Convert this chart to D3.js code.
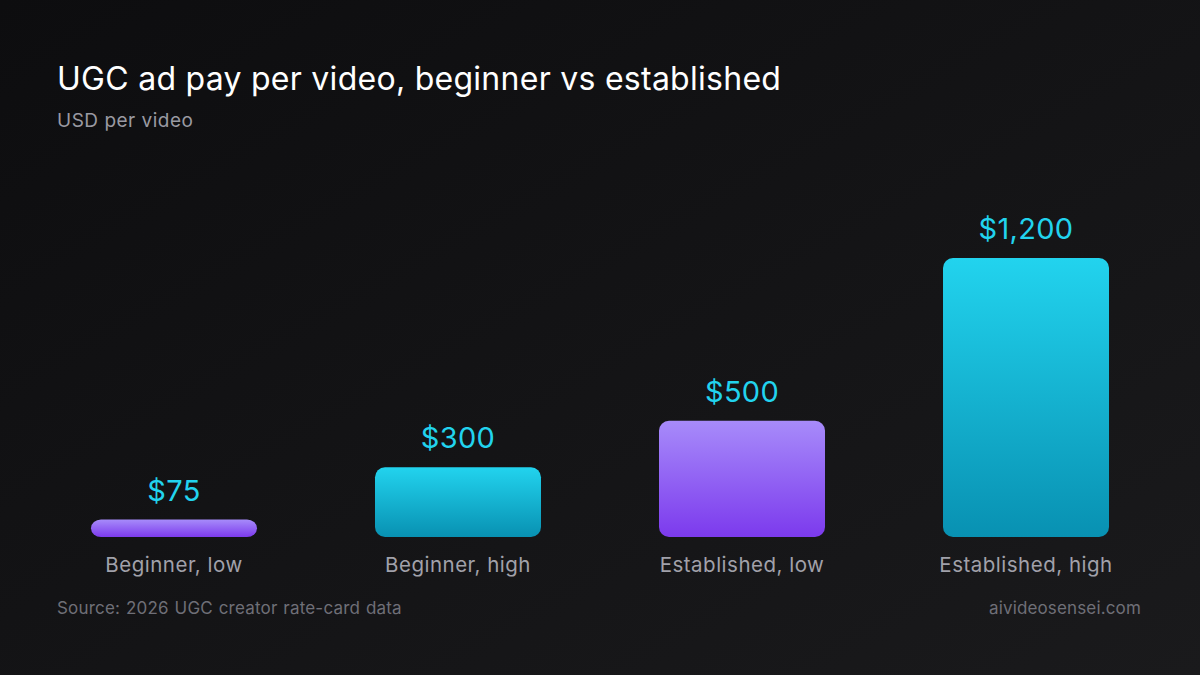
<!DOCTYPE html>
<html><head><meta charset="utf-8">
<script src="https://cdn.jsdelivr.net/npm/d3@7/dist/d3.min.js"></script>
<style>html,body{margin:0;padding:0;background:#111113;}svg{display:block;}</style>
</head><body>
<script>
const categories = ["Beginner, low", "Beginner, high", "Established, low", "Established, high"];
const values = [75, 300, 500, 1200];
const valueLabels = ["$75", "$300", "$500", "$1,200"];
const colorKeys = ["purple", "cyan", "purple", "cyan"];

const W = 1200, H = 675;
const svg = d3.select("body").append("svg").attr("width", W).attr("height", H);
const defs = svg.append("defs");
const bg = defs.append("linearGradient").attr("id","bg").attr("x1","0").attr("y1","0").attr("x2","1").attr("y2","1");
bg.append("stop").attr("offset","0").attr("stop-color","#0d0d0f");
bg.append("stop").attr("offset","1").attr("stop-color","#1a1a1c");
const gp = defs.append("linearGradient").attr("id","purple").attr("x1","0").attr("y1","0").attr("x2","0").attr("y2","1");
gp.append("stop").attr("offset","0").attr("stop-color","#a78bfa");
gp.append("stop").attr("offset","1").attr("stop-color","#7c3aed");
const gc = defs.append("linearGradient").attr("id","cyan").attr("x1","0").attr("y1","0").attr("x2","0").attr("y2","1");
gc.append("stop").attr("offset","0").attr("stop-color","#22d3ee");
gc.append("stop").attr("offset","1").attr("stop-color","#0891b2");

svg.append("rect").attr("width",W).attr("height",H).attr("fill","url(#bg)");

const font = "Inter, 'Noto Sans', sans-serif";
svg.append("text").attr("x",57).attr("y",90).attr("fill","#ffffff").attr("font-family",font)
  .attr("font-size",32).attr("letter-spacing",0.27).attr("font-weight",400).text("UGC ad pay per video, beginner vs established");
svg.append("text").attr("x",57).attr("y",127).attr("fill","#9a9aa2").attr("font-family",font)
  .attr("font-size",19).attr("letter-spacing",0.5).text("USD per video");

const x = d3.scaleBand().domain(categories).range([32,1168]).paddingInner(0.4155).paddingOuter(0.2077);
const y = d3.scaleLinear().domain([0,1200]).range([537,258]);

const g = svg.append("g");
g.selectAll("rect.bar").data(categories).join("rect").attr("class","bar")
  .attr("x", d => x(d)).attr("width", x.bandwidth())
  .attr("y", (d,i) => y(values[i])).attr("height", (d,i) => y(0) - y(values[i]))
  .attr("rx", 10).attr("ry", (d,i) => Math.min(10, (y(0)-y(values[i]))/2))
  .attr("fill", (d,i) => `url(#${colorKeys[i]})`);

g.selectAll("text.val").data(categories).join("text").attr("class","val")
  .attr("x", d => x(d) + x.bandwidth()/2).attr("y", (d,i) => y(values[i]) - 19)
  .attr("text-anchor","middle").attr("fill","#22d3ee").attr("font-family",font).attr("font-size",29)
  .attr("letter-spacing",0.3)
  .text((d,i) => valueLabels[i]);

const xAxis = d3.axisBottom(x).tickSize(0).tickPadding(0);
const ax = svg.append("g").attr("transform","translate(0,557)").call(xAxis);
ax.select(".domain").remove();
ax.selectAll("text").attr("fill","#a1a1aa").attr("font-family",font).attr("font-size",20.5)
  .attr("letter-spacing",0.5).attr("dy","0.71em");

svg.append("text").attr("x",57).attr("y",614).attr("fill","#6f6f77").attr("font-family",font)
  .attr("font-size",17).attr("letter-spacing",0.2).attr("word-spacing",0.8).text("Source: 2026 UGC creator rate-card data");
svg.append("text").attr("x",1141).attr("y",614).attr("text-anchor","end").attr("fill","#6f6f77").attr("font-family",font)
  .attr("font-size",17).attr("letter-spacing",0.15).text("aivideosensei.com");
</script>
</body></html>
